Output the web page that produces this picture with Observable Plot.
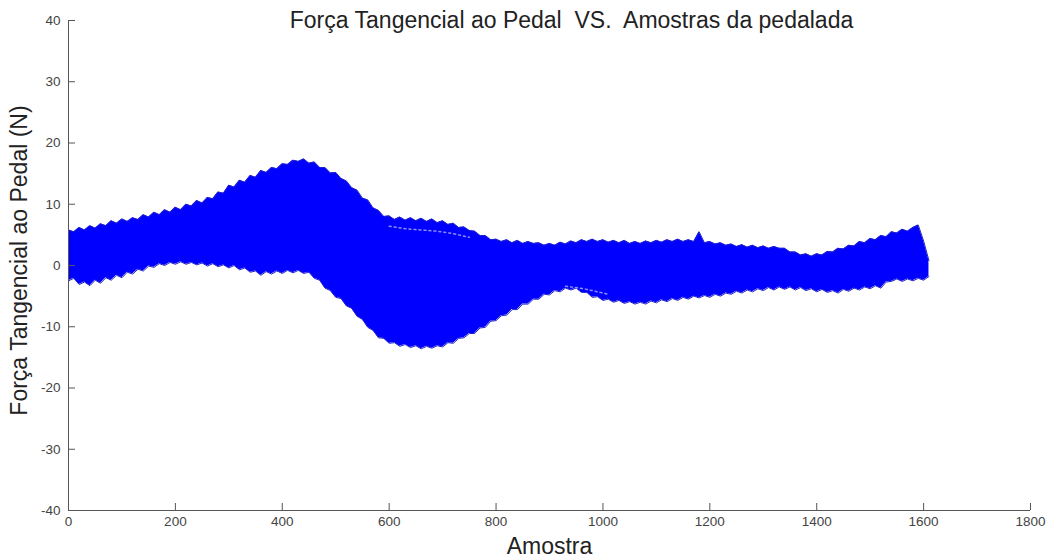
<!DOCTYPE html>
<html><head><meta charset="utf-8">
<script src="https://cdn.jsdelivr.net/npm/d3@7"></script>
<script src="https://cdn.jsdelivr.net/npm/@observablehq/plot@0.6"></script>
<style>
body{margin:0;background:#fff}
#chart svg{display:block}
#chart svg text{white-space:pre}
</style>
</head><body><div id="chart"></div>
<script>
const title = "Força Tangencial ao Pedal  VS.  Amostras da pedalada";
const xLabel = "Amostra";
const yLabel = "Força Tangencial ao Pedal (N)";
const xTicks = [0, 200, 400, 600, 800, 1000, 1200, 1400, 1600, 1800];
const yTicks = [-40, -30, -20, -10, 0, 10, 20, 30, 40];
const sampleStep = 10;

// upper envelope of the band, one value every 10 samples (0 .. 1610)
const upper = [
 5.8,5.5,6.2,5.8,6.5,6.1,6.8,6.5,7.3,6.9,
 7.6,7.2,7.8,7.5,8.3,7.9,8.7,8.3,9.1,8.7,
 9.5,9.1,10.0,9.7,10.6,10.2,11.1,10.9,12.0,11.8,
 13.1,12.8,13.9,13.6,14.7,14.4,15.5,15.2,16.0,15.8,
 16.6,16.5,17.2,17.0,17.4,16.7,16.9,16.0,16.0,15.1,
 15.2,14.2,13.8,12.7,12.3,11.0,10.7,9.4,9.0,8.0,
 8.1,7.5,7.9,7.4,7.8,7.3,7.7,7.2,7.6,7.0,
 7.3,6.7,6.9,6.2,6.3,5.7,5.6,4.9,4.9,4.2,
 4.3,3.9,4.2,3.7,4.1,3.6,3.9,3.6,3.7,3.3,
 3.6,3.3,3.8,3.5,4.0,3.7,4.2,3.9,4.3,3.9,
 4.2,3.8,4.1,3.7,4.1,3.6,3.9,3.6,4.0,3.7,
 4.1,3.8,4.2,3.9,4.3,3.9,4.2,3.9,5.5,3.7,
 3.9,3.5,3.7,3.3,3.5,3.1,3.4,3.0,3.3,2.9,
 3.2,2.8,3.1,2.8,2.8,2.2,2.2,1.7,1.9,1.5,
 1.9,1.7,2.3,2.2,2.8,2.7,3.3,3.2,3.9,3.7,
 4.4,4.2,4.9,4.7,5.5,5.3,5.9,5.6,6.2,6.6,
 4.0,0.8
];
// lower envelope of the band, same samples
const lower = [
 -2.5,-2.1,-3.1,-2.7,-3.3,-2.4,-2.9,-2.0,-2.4,-1.6,
 -2.0,-1.1,-1.4,-0.6,-0.9,-0.1,-0.3,0.3,0.0,0.5,
 0.2,0.6,0.2,0.5,0.1,0.4,-0.1,0.3,-0.2,0.1,
 -0.4,0.0,-0.7,-0.4,-1.1,-0.9,-1.6,-1.0,-1.4,-0.9,
 -1.3,-0.8,-1.2,-0.8,-1.3,-1.1,-2.1,-2.4,-3.7,-4.1,
 -5.2,-5.4,-6.6,-7.0,-8.3,-8.8,-10.1,-10.6,-11.8,-11.9,
 -12.7,-12.6,-13.2,-12.9,-13.4,-13.1,-13.6,-13.2,-13.5,-13.1,
 -13.3,-12.6,-12.7,-11.9,-11.8,-11.1,-11.1,-10.2,-10.1,-9.1,
 -9.0,-8.2,-8.1,-7.2,-7.2,-6.3,-6.3,-5.5,-5.5,-4.7,
 -4.8,-4.1,-4.3,-3.7,-4.0,-3.7,-4.4,-4.4,-5.2,-5.1,
 -5.7,-5.5,-6.0,-5.7,-6.2,-5.9,-6.3,-6.0,-6.3,-5.8,
 -6.1,-5.6,-5.9,-5.4,-5.7,-5.2,-5.5,-5.0,-5.3,-4.9,
 -5.2,-4.7,-5.0,-4.5,-4.7,-4.2,-4.5,-4.0,-4.3,-3.8,
 -4.1,-3.6,-4.0,-3.5,-3.9,-3.5,-4.0,-3.6,-4.1,-3.8,
 -4.3,-3.9,-4.4,-4.1,-4.5,-3.9,-4.2,-3.7,-4.0,-3.5,
 -3.8,-3.3,-3.7,-2.7,-2.6,-2.2,-2.6,-2.2,-2.5,-2.1,
 -2.4,-1.8
];
// faint gaps (white speckle streaks) seen inside the band
const gapUpperS = [600, 630, 660, 690, 720, 750];
const gapUpperV = [6.4, 6.0, 5.8, 5.6, 5.2, 4.6];
const gapLowerS = [930, 950, 970, 990, 1010];
const gapLowerV = [-3.4, -3.6, -3.9, -4.3, -4.7];

const band = upper.map((hi, i) => ({s: i * sampleStep, hi, lo: lower[i]}));
const gapU = gapUpperS.map((s, i) => ({s, v: gapUpperV[i]}));
const gapL = gapLowerS.map((s, i) => ({s, v: gapLowerV[i]}));
const blue = "#0000ff";
const edge = "#2222cc";
const axisColor = "#555";
const font = "'Liberation Sans', Arial, Helvetica, sans-serif";

const chart = Plot.plot({
  width: 1049,
  height: 558,
  marginLeft: 68,
  marginRight: 19,
  marginTop: 20,
  marginBottom: 48,
  style: {fontFamily: font, fontSize: "13.5px", color: "#444", background: "#fff"},
  x: {domain: [0, 1800]},
  y: {domain: [-40, 40]},
  marks: [
    Plot.areaY(band, {x: "s", y1: "lo", y2: "hi", fill: blue}),
    Plot.lineY(band, {x: "s", y: "hi", stroke: edge, strokeWidth: 1}),
    Plot.lineY(band, {x: "s", y: "lo", stroke: edge, strokeWidth: 1}),
    Plot.lineY(gapU, {x: "s", y: "v", stroke: "#fff", strokeOpacity: 0.55, strokeWidth: 1.5, strokeDasharray: "2,3"}),
    Plot.lineY(gapL, {x: "s", y: "v", stroke: "#fff", strokeOpacity: 0.55, strokeWidth: 1.5, strokeDasharray: "2,3"}),
    Plot.ruleY([-40], {x1: 0, x2: 1800, stroke: axisColor}),
    Plot.ruleX([0], {y1: -40, y2: 40, stroke: axisColor}),
    Plot.ruleX(xTicks, {y1: -40, y2: -40, insetTop: -7, stroke: axisColor}),
    Plot.ruleY(yTicks, {x1: 0, x2: 0, insetRight: -7, stroke: axisColor}),
    Plot.axisX({ticks: xTicks, tickSize: 0, tickPadding: 6, label: null, tickFormat: d => String(d), fill: "#444"}),
    Plot.axisY({ticks: yTicks, tickSize: 0, tickPadding: 8, label: null, tickFormat: d => String(d), fill: "#444"}),
    Plot.text([title], {frameAnchor: "top", dx: 22, lineAnchor: "middle", fontSize: 23, fill: "#222"}),
    Plot.text([xLabel], {frameAnchor: "bottom", dy: 36, lineAnchor: "middle", fontSize: 23, fill: "#222"}),
    Plot.text([yLabel], {frameAnchor: "left", dx: -49, dy: -5, rotate: -90, textAnchor: "middle", lineAnchor: "middle", fontSize: 23, fill: "#222"})
  ]
});
document.getElementById("chart").appendChild(chart);
</script>
</body></html>
